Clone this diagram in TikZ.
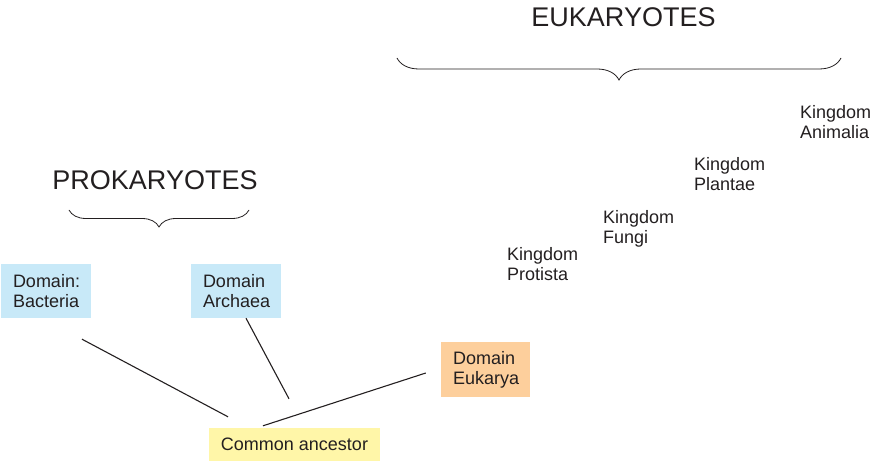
\documentclass[tikz,border=0pt]{standalone}
\usepackage{fontspec}
\setmainfont{Liberation Sans}
\usetikzlibrary{decorations.pathreplacing}
\definecolor{domblue}{HTML}{C8E9F8}
\definecolor{domorange}{HTML}{FDCF9C}
\definecolor{ancyellow}{HTML}{FFF6A8}
\definecolor{ink}{HTML}{231F20}
\begin{document}
\begin{tikzpicture}[
        x=1pt, y=-1pt,
        dombox/.style={rectangle, inner xsep=12pt, inner ysep=0pt, align=left,
            text=ink, font=\fontsize{18}{20}\selectfont},
        kingdom/.style={anchor=north west, inner sep=0pt, align=left,
            text=ink, font=\fontsize{18}{20}\selectfont},
        group/.style={anchor=base, inner sep=0pt, text=ink,
            font=\fontsize{27}{30}\selectfont},
        bracket/.style={decorate, decoration={brace, amplitude=#1}, line width=0.8pt, ink},
        link/.style={line width=1.1pt, ink}
    ]
        \useasboundingbox (0,0) rectangle (878,462);

        % Group headings with their braces
        \node[group] (prok) at (155,190) {PROKARYOTES};
        \node[group] (euka) at (623.5,27) {EUKARYOTES};
        \draw[bracket=17pt] (249,210) -- (69,210);
        \draw[bracket=22pt] (841,58) -- (397,58);

        % The three domains
        \node[dombox, fill=domblue, text width=66pt, minimum height=54pt] (bac) at (46,291)
            {Domain:\\Bacteria};
        \node[dombox, fill=domblue, text width=66pt, minimum height=54pt] (arc) at (236,291)
            {Domain\\Archaea};
        \node[dombox, fill=domorange, text width=65pt, minimum height=55pt] (euk) at (485.5,369.5)
            {Domain\\Eukarya};

        % Root of the tree
        \node[dombox, fill=ancyellow, minimum width=171pt, minimum height=33pt] (anc) at (294.5,444.5)
            {Common ancestor};

        % Kingdoms of the eukaryotes
        \node[kingdom] (protista) at (507,247) {Kingdom\\Protista};
        \node[kingdom] (fungi) at (603,210) {Kingdom\\Fungi};
        \node[kingdom] (plantae) at (694,157) {Kingdom\\Plantae};
        \node[kingdom] (animalia) at (800,105) {Kingdom\\Animalia};

        % Branches to the common ancestor
        \draw[link] ([shift={(36,21)}]bac.south) -- ([shift={(-66.5,-11)}]anc.north);
        \draw[link] ([shift={(10,0)}]arc.south) -- ([shift={(-5.5,-29)}]anc.north);
        \draw[link] ([shift={(-15,3.5)}]euk.west) -- ([shift={(-31.5,-2)}]anc.north);
    \end{tikzpicture}
\end{document}
